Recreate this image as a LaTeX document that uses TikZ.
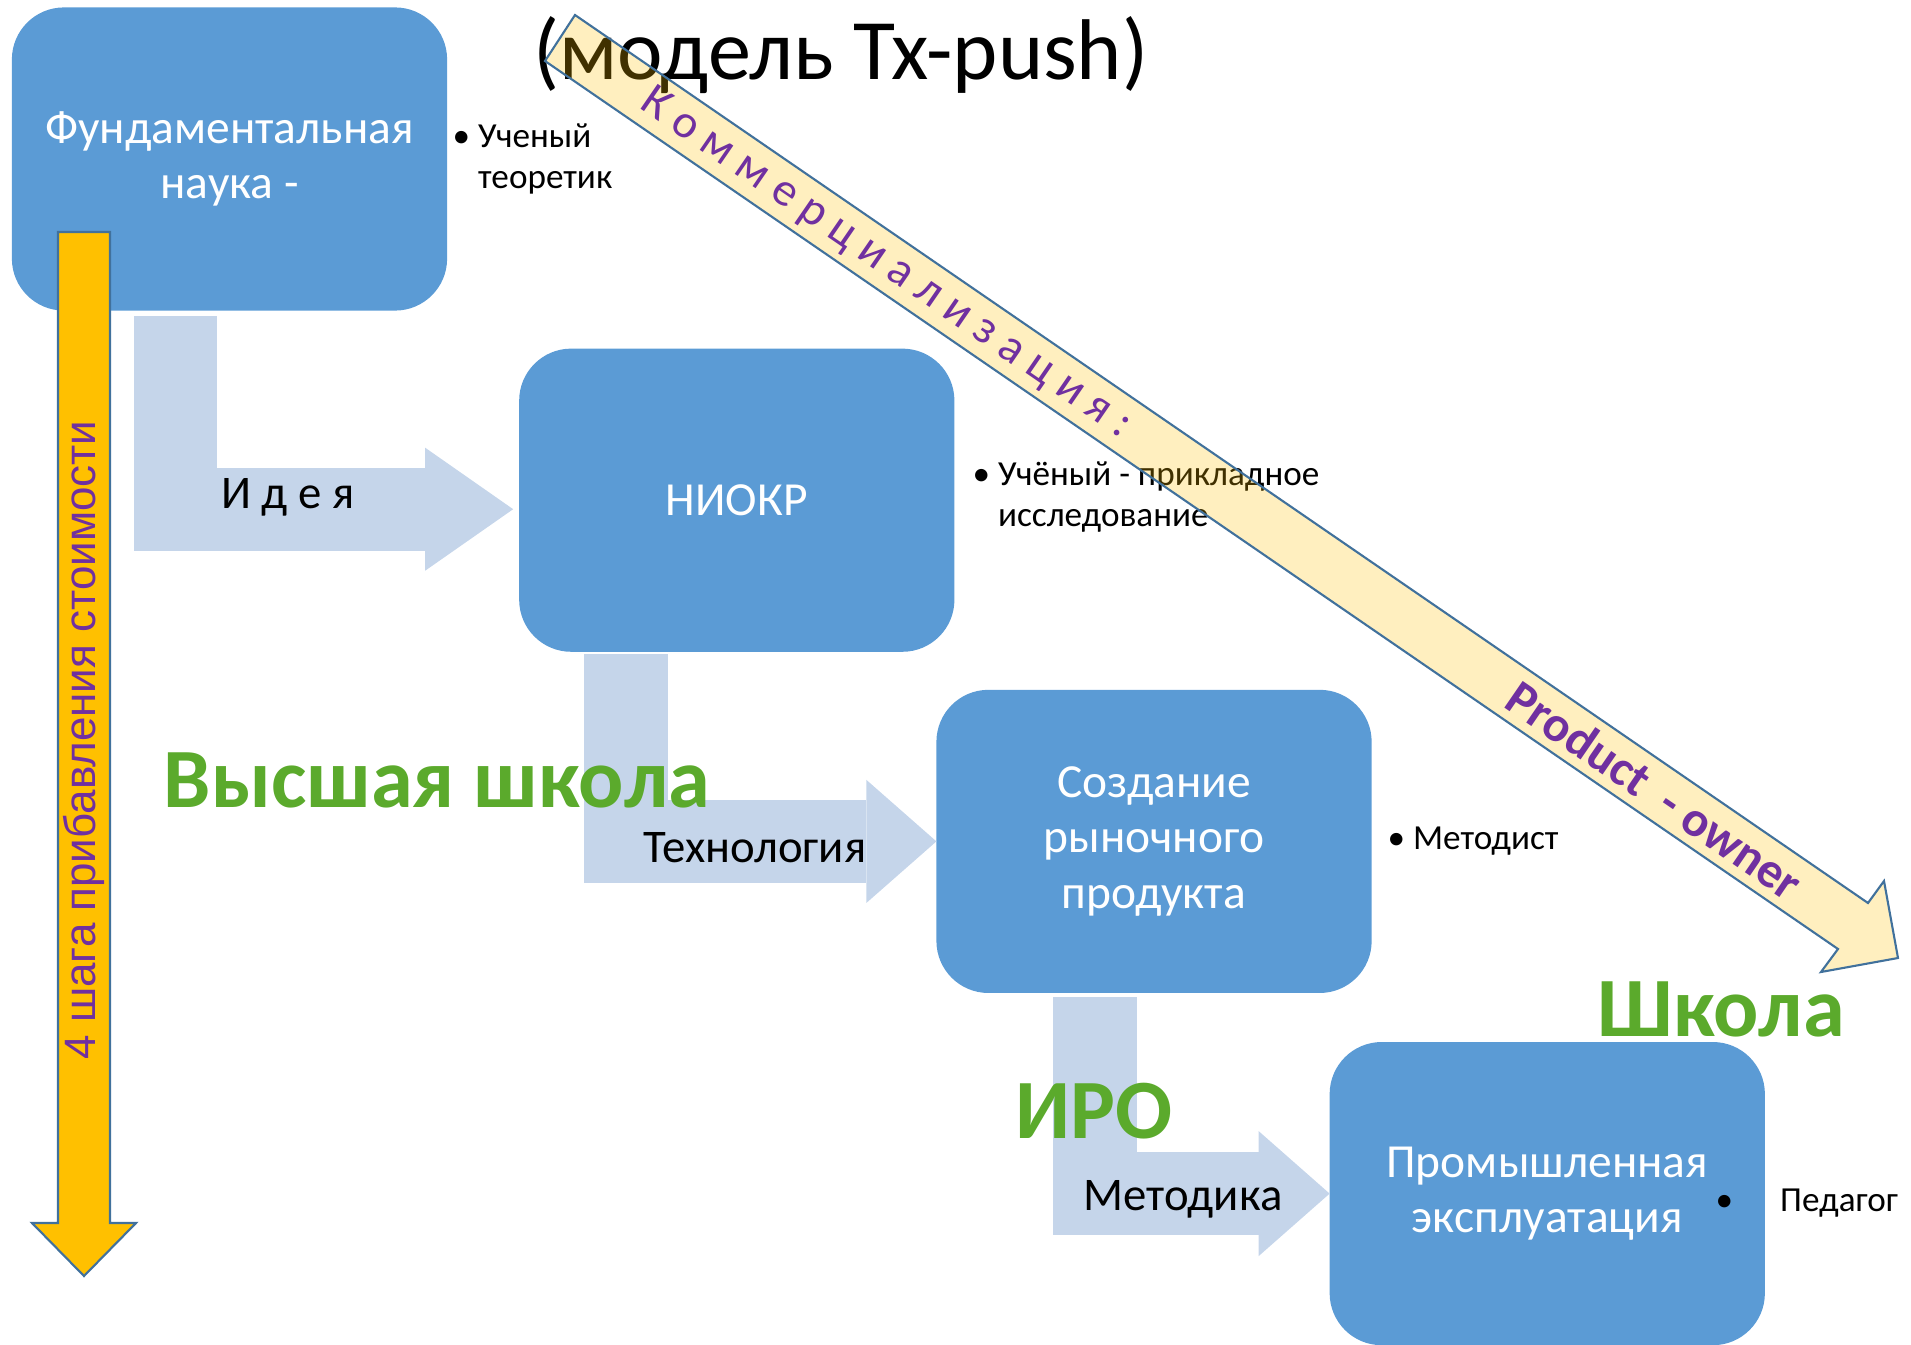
\documentclass[tikz,border=0pt]{standalone}
\usepackage{fontspec}
\setmainfont{Carlito}
\newfontfamily\arialFont{Liberation Sans}
\usepackage{tikz}
\usetikzlibrary{arrows.meta}
\usetikzlibrary{positioning}
\definecolor{boxBlue}{HTML}{5B9BD5}
\definecolor{stepBlue}{HTML}{C5D5EA}
\definecolor{valueOrange}{HTML}{FFC000}
\definecolor{edgeBlue}{HTML}{41719C}
\definecolor{labelPurple}{HTML}{7030A0}
\definecolor{levelGreen}{HTML}{5BAA2C}

\begin{document}
\begin{tikzpicture}
      [x=0.01cm,y=-0.01cm,
       stageBox/.style={rectangle,rounded corners=0.52cm,fill=boxBlue,text=white,minimum width=4.35cm,minimum height=3.03cm,inner sep=0pt,outer sep=0pt,align=center,font=\fontsize{13.5}{15.7}\selectfont},
       stepArrow/.style={draw=stepBlue,line width=0.83cm,line join=miter},
       stepLabel/.style={font=\fontsize{13.3}{16}\selectfont},
       noteText/.style={anchor=west,inner sep=0pt,align=left,font=\fontsize{10}{11.7}\selectfont},
       levelLabel/.style={text=levelGreen,font=\fontsize{24}{28}\selectfont\bfseries},
       flowLabel/.style={text=labelPurple,rotate=-34.5,font=\fontsize{13.4}{15}\selectfont}]
      \useasboundingbox (0,0) rectangle (1911,1345);
      \node[stageBox] (fund) at (229.5,159) {Фундаментальная\\наука -};
      \node[stageBox] (niokr) [below right=0.38cm and 0.72cm of fund] {НИОКР};
      \node[stageBox] (market) [below right=0.38cm and -0.18cm of niokr] {Создание\\рыночного\\продукта};
      \node[stageBox] (industry) [below right=0.49cm and -0.42cm of market] {Промышленная\\эксплуатация};
      \coordinate (ideaStart) at (175.5,316);
      \coordinate (techStart) at (626,654);
      \coordinate (methodStart) at (1095,997);
      \draw[stepArrow,-{Triangle[length=0.88cm,width=1.23cm,line width=0pt]}] (ideaStart) |- ([xshift=-0.06cm,yshift=-0.09cm]niokr.west);
      \draw[stepArrow,-{Triangle[length=0.7cm,width=1.23cm,line width=0pt]}] (techStart) |- (market.west);
      \draw[stepArrow,-{Triangle[length=0.71cm,width=1.25cm,line width=0pt]}] (methodStart) |- (industry.west);
      \node[stepLabel] (idea) at (288,497) {И д е я};
      \node[stepLabel] (tech) at (755,848) {Технология};
      \node[stepLabel] (method) at (1183,1199) {Методика};
      \node[noteText] (theorist) at (452,159) {\textbullet\ Ученый\\\phantom{\textbullet\ }теоретик};
      \node[noteText] (applied) at (972,497) {\textbullet\ Учёный - прикладное\\\phantom{\textbullet\ }исследование};
      \node[noteText] (methodist) at (1387,841) {\textbullet\ Методист};
      \node[noteText] (teacher) at (1715,1203) {\textbullet\hspace{0.47cm}Педагог};
      \node[levelLabel] (university) at (437,780) {Высшая школа};
      \node[levelLabel] (iro) at (1094,1111) {ИРО};
      \node[levelLabel] (school) at (1721,1009) {Школа};
      \node[font=\fontsize{24.5}{28}\selectfont] (title) at (841,55) {(модель Tx-push)};
      \filldraw[fill=valueOrange,draw=edgeBlue,line width=0.6pt] (58,232) -- (110,232) -- (110,1223) -- (136,1223) -- (84,1276) -- (32,1223) -- (58,1223) -- cycle;
      \node[rotate=90,text=labelPurple,font=\arialFont\fontsize{12.5}{14}\selectfont] (valueSteps) at (84,740) {4 шага прибавления стоимости};
      \filldraw[fill=valueOrange,fill opacity=0.25,draw=edgeBlue,line width=0.6pt] (575,15) -- (1868,903) -- (1884,881) -- (1898,958) -- (1821,972) -- (1838,949) -- (545,61) -- cycle;
      \node[flowLabel] (commerce) at (886,264) {К о м м е р ц и а л и з а ц и я :};
      \node[flowLabel,font=\fontsize{14.2}{16}\selectfont\bfseries] (owner) at (1655,790) {Product\ \ - owner};
    \end{tikzpicture}
\end{document}
